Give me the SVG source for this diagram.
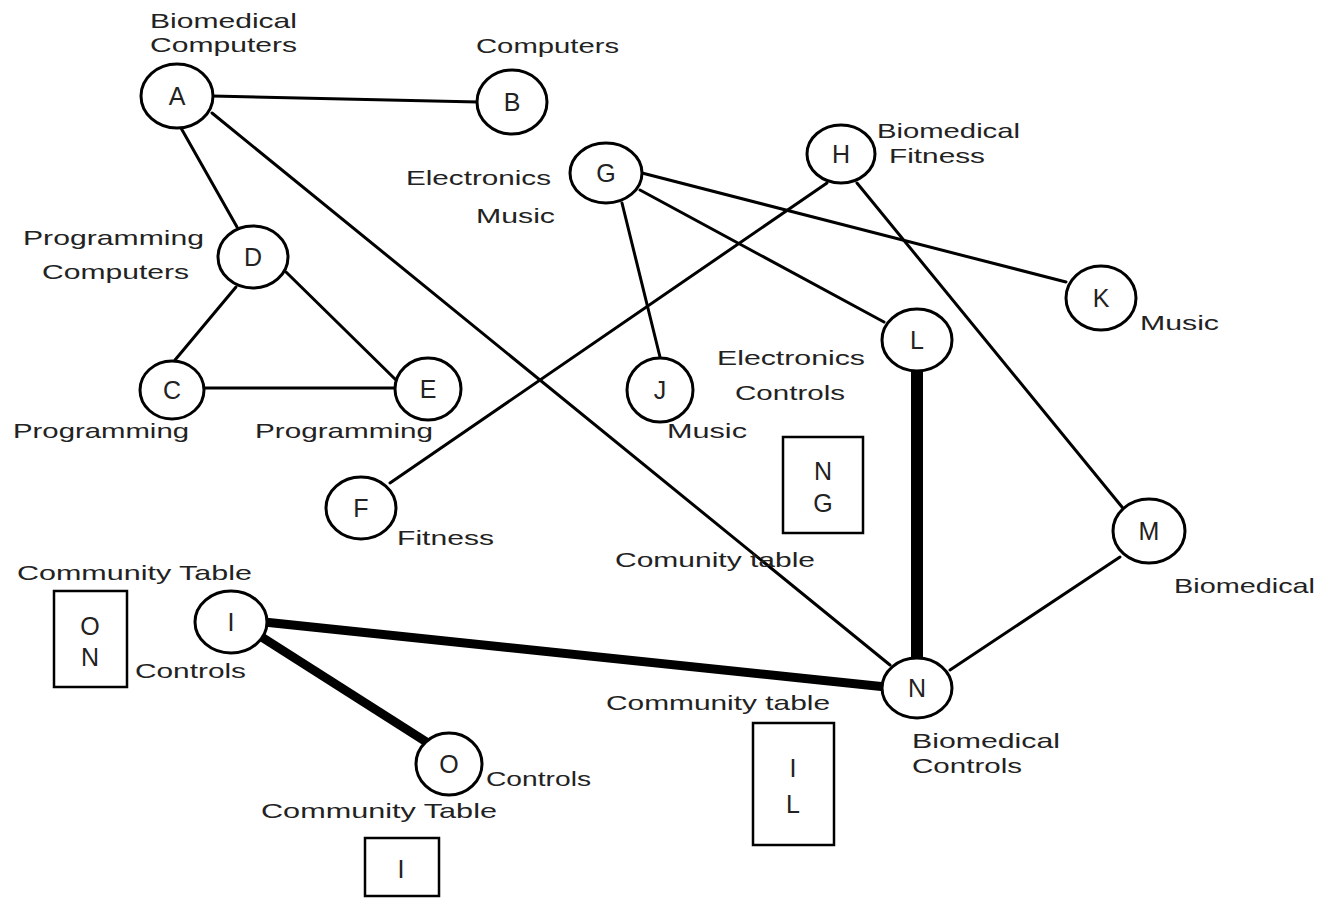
<svg xmlns="http://www.w3.org/2000/svg" width="1319" height="898" viewBox="0 0 1319 898">
<style>
.n{fill:#fff;stroke:#000;stroke-width:3}
.b{fill:#fff;stroke:#000;stroke-width:2.5}
.e{stroke:#000;stroke-width:3;fill:none;stroke-linecap:round}
.t{stroke:#000;stroke-width:12;fill:none}
.m{stroke:#000;stroke-width:9;fill:none}
.l{font-family:"Liberation Sans",Arial,sans-serif;font-size:21px;fill:#222}
.c{font-family:"Liberation Sans",Arial,sans-serif;font-size:25px;fill:#222;text-anchor:middle}
</style>
<rect width="1319" height="898" fill="#fff"/>
<g id="connectors">
<line class="e" x1="212" y1="96" x2="478" y2="102"/>
<line class="e" x1="181" y1="128" x2="237" y2="227"/>
<line class="e" x1="212" y1="113" x2="890" y2="665"/>
<line class="e" x1="236" y1="287" x2="175" y2="360"/>
<line class="e" x1="286" y1="272" x2="396" y2="380"/>
<line class="e" x1="204" y1="388" x2="396" y2="388"/>
<line class="e" x1="622" y1="203" x2="660" y2="357"/>
<line class="e" x1="640" y1="190" x2="884" y2="322"/>
<line class="e" x1="642" y1="173" x2="1066" y2="282"/>
<line class="e" x1="827" y1="183" x2="390" y2="483"/>
<line class="e" x1="857" y1="183" x2="1122" y2="507"/>
<line class="e" x1="1120" y1="557" x2="950" y2="670"/>
<line class="t" x1="917" y1="368" x2="917" y2="660"/>
<line class="m" x1="264" y1="622" x2="886" y2="687"/>
<line class="m" x1="260" y1="636" x2="428" y2="743"/>
</g>
<g id="node-A"><ellipse class="n" cx="177" cy="96" rx="36" ry="32"/><text class="c" x="177" y="105">A</text>
<text class="l" x="150" y="28" textLength="147" lengthAdjust="spacingAndGlyphs">Biomedical</text>
<text class="l" x="150" y="52" textLength="147" lengthAdjust="spacingAndGlyphs">Computers</text></g>
<g id="node-B"><ellipse class="n" cx="512" cy="102" rx="35" ry="32"/><text class="c" x="512" y="111">B</text>
<text class="l" x="476" y="53" textLength="143" lengthAdjust="spacingAndGlyphs">Computers</text></g>
<g id="node-G"><ellipse class="n" cx="606" cy="173" rx="36" ry="30"/><text class="c" x="606" y="182">G</text>
<text class="l" x="406" y="185" textLength="145" lengthAdjust="spacingAndGlyphs">Electronics</text>
<text class="l" x="476" y="223" textLength="79" lengthAdjust="spacingAndGlyphs">Music</text></g>
<g id="node-H"><ellipse class="n" cx="841" cy="154" rx="34" ry="29"/><text class="c" x="841" y="163">H</text>
<text class="l" x="877" y="138" textLength="143" lengthAdjust="spacingAndGlyphs">Biomedical</text>
<text class="l" x="889" y="163" textLength="96" lengthAdjust="spacingAndGlyphs">Fitness</text></g>
<g id="node-D"><ellipse class="n" cx="253" cy="257" rx="35" ry="31"/><text class="c" x="253" y="266">D</text>
<text class="l" x="23" y="245" textLength="181" lengthAdjust="spacingAndGlyphs">Programming</text>
<text class="l" x="42" y="279" textLength="147" lengthAdjust="spacingAndGlyphs">Computers</text></g>
<g id="node-C"><ellipse class="n" cx="172" cy="390" rx="32" ry="29"/><text class="c" x="172" y="399">C</text>
<text class="l" x="13" y="438" textLength="176" lengthAdjust="spacingAndGlyphs">Programming</text></g>
<g id="node-E"><ellipse class="n" cx="428" cy="389" rx="33" ry="31"/><text class="c" x="428" y="398">E</text>
<text class="l" x="255" y="438" textLength="178" lengthAdjust="spacingAndGlyphs">Programming</text></g>
<g id="node-J"><ellipse class="n" cx="660" cy="390" rx="33" ry="32"/><text class="c" x="660" y="399">J</text>
<text class="l" x="667" y="438" textLength="80" lengthAdjust="spacingAndGlyphs">Music</text></g>
<g id="node-L"><ellipse class="n" cx="917" cy="340" rx="35" ry="31"/><text class="c" x="917" y="349">L</text>
<text class="l" x="717" y="365" textLength="148" lengthAdjust="spacingAndGlyphs">Electronics</text>
<text class="l" x="735" y="400" textLength="110" lengthAdjust="spacingAndGlyphs">Controls</text></g>
<g id="node-K"><ellipse class="n" cx="1101" cy="298" rx="35" ry="32"/><text class="c" x="1101" y="307">K</text>
<text class="l" x="1140" y="330" textLength="79" lengthAdjust="spacingAndGlyphs">Music</text></g>
<g id="node-M"><ellipse class="n" cx="1149" cy="531" rx="36" ry="32"/><text class="c" x="1149" y="540">M</text>
<text class="l" x="1174" y="593" textLength="141" lengthAdjust="spacingAndGlyphs">Biomedical</text></g>
<g id="node-F"><ellipse class="n" cx="361" cy="508" rx="35" ry="31"/><text class="c" x="361" y="517">F</text>
<text class="l" x="397" y="545" textLength="97" lengthAdjust="spacingAndGlyphs">Fitness</text></g>
<g id="node-I"><ellipse class="n" cx="231" cy="622" rx="36" ry="31"/><text class="c" x="231" y="631">I</text>
<text class="l" x="17" y="580" textLength="235" lengthAdjust="spacingAndGlyphs">Community Table</text>
<text class="l" x="135" y="678" textLength="111" lengthAdjust="spacingAndGlyphs">Controls</text></g>
<g id="node-N"><ellipse class="n" cx="917" cy="688" rx="35" ry="30"/><text class="c" x="917" y="697">N</text>
<text class="l" x="615" y="567" textLength="200" lengthAdjust="spacingAndGlyphs">Comunity table</text>
<text class="l" x="606" y="710" textLength="224" lengthAdjust="spacingAndGlyphs">Community table</text>
<text class="l" x="912" y="748" textLength="148" lengthAdjust="spacingAndGlyphs">Biomedical</text>
<text class="l" x="912" y="773" textLength="110" lengthAdjust="spacingAndGlyphs">Controls</text></g>
<g id="node-O"><ellipse class="n" cx="449" cy="764" rx="33" ry="31"/><text class="c" x="449" y="773">O</text>
<text class="l" x="486" y="786" textLength="105" lengthAdjust="spacingAndGlyphs">Controls</text>
<text class="l" x="261" y="818" textLength="236" lengthAdjust="spacingAndGlyphs">Community Table</text></g>
<g id="box-ON"><rect class="b" x="54" y="591" width="73" height="96"/><text class="c" x="90" y="635">O</text><text class="c" x="90" y="666">N</text></g>
<g id="box-NG"><rect class="b" x="783" y="437" width="80" height="96"/><text class="c" x="823" y="480">N</text><text class="c" x="823" y="512">G</text></g>
<g id="box-IL"><rect class="b" x="753" y="723" width="81" height="122"/><text class="c" x="793" y="777">I</text><text class="c" x="793" y="813">L</text></g>
<g id="box-I"><rect class="b" x="365" y="838" width="74" height="58"/><text class="c" x="401" y="878">I</text></g>
</svg>
